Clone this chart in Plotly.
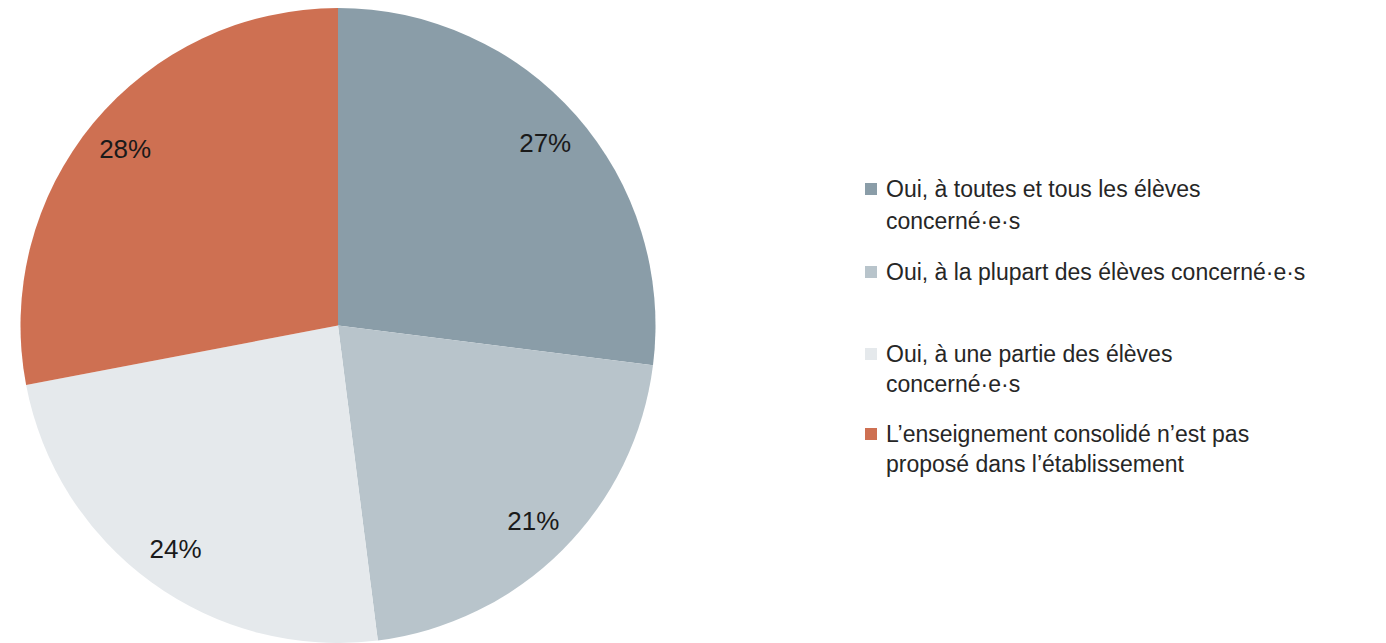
import plotly.graph_objects as go

labels = [
    "Oui, à toutes et tous les élèves<br>concerné·e·s",
    "Oui, à la plupart des élèves concerné·e·s",
    "Oui, à une partie des élèves<br>concerné·e·s",
    "L’enseignement consolidé n’est pas<br>proposé dans l’établissement",
]
values = [27, 21, 24, 28]
colors = ["#8A9DA8", "#B8C4CB", "#E5E9EC", "#CE7052"]

# The page body has an 8px margin: the figure is sized to the visible area
OFF = 8
W, H = 1386 - OFF, 643 - OFF
FONT = "Liberation Sans, Arial, sans-serif"

R = H / 2.0
cx = 338 - OFF
dom_x = [(cx - R) / W, (cx + R) / W]

fig = go.Figure()
# Slices
fig.add_trace(go.Pie(
    labels=labels,
    values=values,
    sort=False,
    direction="clockwise",
    rotation=0,
    marker=dict(colors=colors, line=dict(width=0)),
    textinfo="none",
    domain=dict(x=dom_x, y=[0, 1]),
    hoverinfo="label+percent",
    showlegend=False,
))
# Percentage labels, placed by the library in an outer (transparent) ring
fig.add_trace(go.Pie(
    labels=labels,
    values=values,
    sort=False,
    direction="clockwise",
    rotation=0,
    hole=0.74,
    marker=dict(colors=["rgba(0,0,0,0)"] * len(values), line=dict(width=0)),
    texttemplate="%{value}%",
    textposition="inside",
    insidetextorientation="horizontal",
    textfont=dict(family=FONT, size=26, color="#1a1a1a"),
    domain=dict(x=dom_x, y=[0, 1]),
    hoverinfo="skip",
    showlegend=False,
))

# Legend (drawn as shapes + text so the spacing matches the original)
LEG_FS = 23
text_x = 884 - OFF
sq_cx = 871 - OFF
sq = 12
baselines = [[197, 229], [280], [362, 392], [442, 472]]

def py(y):
    return 1 - (y - OFF) / H

for lab, col, bl in zip(labels, colors, baselines):
    lines = lab.split("<br>")
    for line, b in zip(lines, bl):
        fig.add_annotation(
            x=text_x / W, y=py(b - 0.3465 * LEG_FS), xref="paper", yref="paper",
            xanchor="left", yanchor="middle", showarrow=False,
            text=line, font=dict(family=FONT, size=LEG_FS, color="#262626"),
        )
    cy = bl[0] - 8
    fig.add_shape(
        type="rect", xref="paper", yref="paper",
        x0=(sq_cx - sq / 2) / W, x1=(sq_cx + sq / 2) / W,
        y0=py(cy + sq / 2), y1=py(cy - sq / 2),
        fillcolor=col, line=dict(width=0),
    )

fig.update_layout(
    width=W, height=H,
    margin=dict(l=0, r=0, t=0, b=0),
    paper_bgcolor="white",
    plot_bgcolor="white",
    showlegend=False,
)

fig.write_html("out.html")
